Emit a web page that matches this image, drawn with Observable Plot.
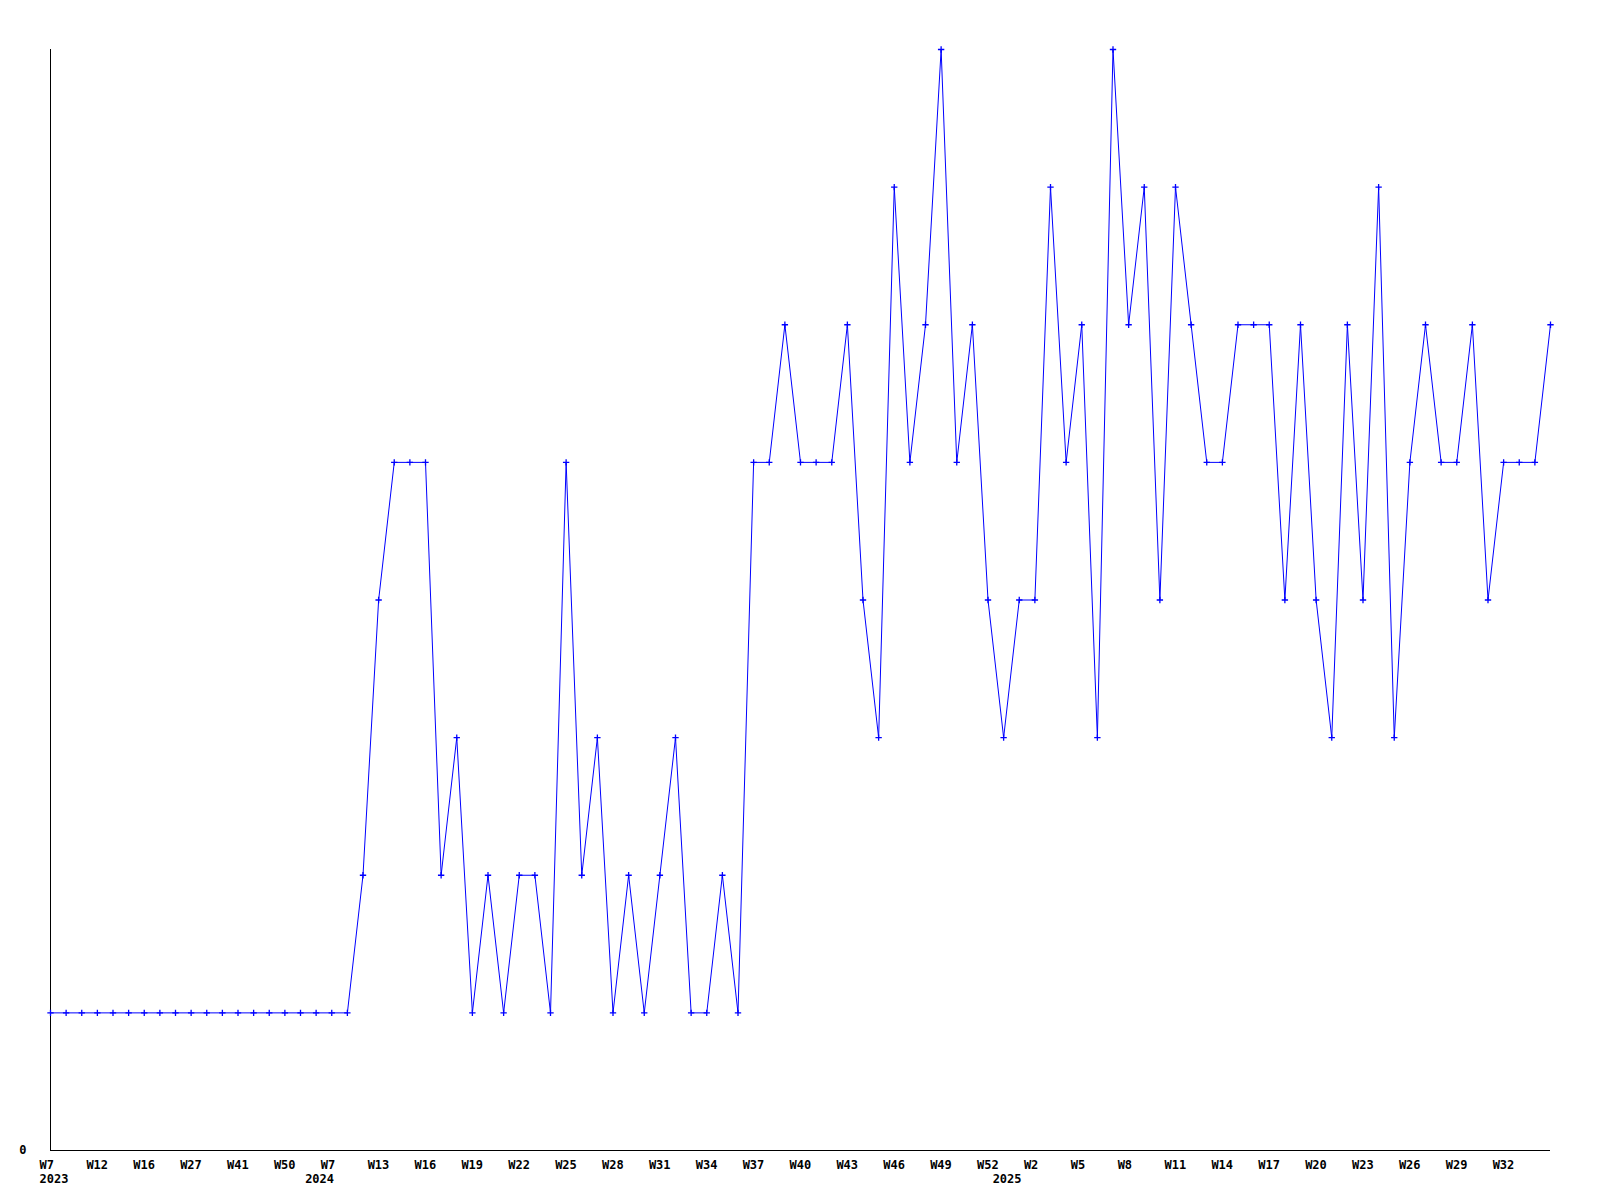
<!DOCTYPE html>
<html>
<head>
<meta charset="utf-8">
<script src="https://cdn.jsdelivr.net/npm/d3@7"></script>
<script src="https://cdn.jsdelivr.net/npm/@observablehq/plot@0.6"></script>
<style>
  html, body { margin: 0; padding: 0; background: #ffffff; }
  #chart { width: 1600px; height: 1200px; }
</style>
</head>
<body>
<div id="chart"></div>
<script>
// Week numbers per year (categories on the x axis, in order)
const weeks2023 = [7, 9, 10, 12, 13, 15, 16, 19, 23, 27, 32, 37, 41, 44, 47, 50, 52];
const weeks2024 = [3, 7, 9, 11, 13, 14, 15, 16, 17, 18, 19, 20, 21, 22, 23, 24, 25, 26, 27, 28,
                   29, 30, 31, 32, 33, 34, 35, 36, 37, 38, 39, 40, 41, 42, 43, 44, 45, 46, 47, 48,
                   49, 50, 51, 52];
const weeks2025 = [0, 1, 2, 3, 4, 5, 6, 7, 8, 9, 10, 11, 12, 13, 14, 15, 16, 17, 18, 19,
                   20, 21, 22, 23, 24, 25, 26, 27, 28, 29, 30, 31, 32, 33, 34, 35];

// Series values, one per week, in the same order
const values = [
  1, 1, 1, 1, 1, 1, 1, 1, 1, 1, 1, 1, 1, 1, 1, 1, 1, 1, 1, 1,
  2, 4, 5, 5, 5, 2, 3, 1, 2, 1, 2, 2, 1, 5, 2, 3, 1, 2, 1, 2,
  3, 1, 1, 2, 1, 5, 5, 6, 5, 5, 5, 6, 4, 3, 7, 5, 6, 8, 5, 6,
  4, 3, 4, 4, 7, 5, 6, 3, 8, 6, 7, 4, 7, 6, 5, 5, 6, 6, 6, 4,
  6, 4, 3, 6, 4, 7, 3, 5, 6, 5, 5, 6, 4, 5, 5, 5, 6
];

// Tick label settings
const yTicks = [0];
const labelEvery = 3;
const lastLabelIndex = 93;

// Build the table
const rows = [];
[[2023, weeks2023], [2024, weeks2024], [2025, weeks2025]].forEach(([yr, wks]) => {
  wks.forEach(w => rows.push({year: yr, week: w}));
});
const data = rows.map((r, i) => ({
  key: r.year + "-W" + String(r.week).padStart(2, "0"),
  year: r.year,
  week: r.week,
  value: values[i]
}));
const keys = data.map(d => d.key);
const weekLabel = new Map(data.map(d => [d.key, "W" + d.week]));
const yearLabel = new Map(data.map(d => [d.key, String(d.year)]));
const weekTicks = keys.filter((k, i) => i % labelEvery === 0 && i <= lastLabelIndex);
const yearTicks = keys.filter((k, i) => i === 0 || data[i].year !== data[i - 1].year);

const chart = Plot.plot({
  width: 1600,
  height: 1200,
  marginLeft: 50,
  marginRight: 50,
  marginTop: 49,
  marginBottom: 50,
  style: {
    fontFamily: "'DejaVu Sans Mono', monospace",
    fontSize: "12px",
    fontWeight: "bold",
    background: "#ffffff",
    color: "#000000"
  },
  x: {type: "point", domain: keys, padding: 0, label: null},
  y: {domain: [0, 8], label: null},
  marks: [
    Plot.axisY({ticks: yTicks, tickSize: 0, tickPadding: 24, tickFormat: d => String(d), label: null, fill: "#000"}),
    Plot.axisX({ticks: weekTicks, tickSize: 0, tickPadding: 10, tickFormat: k => weekLabel.get(k), label: null, textAnchor: "start", dx: -11, fill: "#000"}),
    Plot.axisX({ticks: yearTicks, tickSize: 0, tickPadding: 24, tickFormat: k => yearLabel.get(k), label: null, textAnchor: "start", dx: -11, fill: "#000"}),
    Plot.ruleY([0], {stroke: "#000000", strokeWidth: 1}),
    Plot.ruleX([keys[0]], {y1: 0, y2: 8, stroke: "#000000", strokeWidth: 1}),
    Plot.line(data, {x: "key", y: "value", stroke: "#0000ff", strokeWidth: 1}),
    Plot.dot(data, {x: "key", y: "value", symbol: "plus", r: 2.2, stroke: "#0000ff", strokeWidth: 1.3})
  ]
});
document.getElementById("chart").appendChild(chart);
</script>
</body>
</html>
